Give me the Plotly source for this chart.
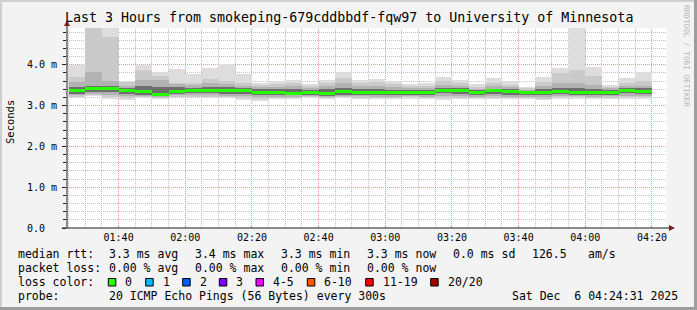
import math
import plotly.graph_objects as go
import pandas as pd

# ---- data (milliseconds) ----
slot_start = pd.date_range("2025-12-06 01:25:00", periods=35, freq="5min")
rtt_max  = [4.00,5.00,5.00,3.61,4.00,3.81,3.90,3.77,3.93,4.02,3.77,3.56,3.60,3.63,3.53,3.63,3.81,3.62,3.66,3.60,3.52,3.55,3.71,3.63,3.52,3.67,3.59,3.45,3.71,3.91,5.00,3.95,3.50,3.67,3.81]
band2_hi = [3.69,4.95,4.67,3.57,3.86,3.73,3.56,3.55,3.65,3.61,3.55,3.51,3.53,3.55,3.48,3.55,3.67,3.55,3.58,3.52,3.47,3.49,3.60,3.55,3.46,3.55,3.51,3.42,3.58,3.79,3.86,3.72,3.46,3.55,3.60]
band3_hi = [3.57,3.82,3.61,3.48,3.62,3.62,3.52,3.50,3.55,3.52,3.49,3.45,3.46,3.47,3.43,3.47,3.55,3.47,3.48,3.45,3.42,3.44,3.50,3.47,3.41,3.47,3.45,3.39,3.47,3.55,3.55,3.50,3.42,3.47,3.49]
band4_hi = [3.45,3.49,3.47,3.42,3.48,3.45,3.45,3.44,3.46,3.45,3.43,3.40,3.40,3.40,3.38,3.40,3.42,3.40,3.40,3.39,3.38,3.39,3.44,3.42,3.37,3.41,3.40,3.36,3.40,3.43,3.43,3.41,3.38,3.42,3.42]
median_rtt = [3.36,3.42,3.41,3.36,3.34,3.28,3.34,3.37,3.37,3.36,3.37,3.33,3.31,3.30,3.32,3.29,3.34,3.33,3.32,3.32,3.32,3.32,3.37,3.37,3.31,3.36,3.35,3.32,3.31,3.35,3.32,3.31,3.33,3.37,3.34]
band4_lo = [3.29,3.34,3.33,3.29,3.27,3.24,3.28,3.30,3.30,3.29,3.29,3.27,3.26,3.25,3.27,3.24,3.27,3.27,3.26,3.26,3.27,3.26,3.30,3.29,3.26,3.28,3.27,3.26,3.25,3.28,3.27,3.26,3.27,3.30,3.28]
band3_lo = [3.25,3.29,3.27,3.24,3.24,3.21,3.25,3.26,3.25,3.24,3.23,3.22,3.22,3.22,3.23,3.21,3.24,3.23,3.22,3.22,3.23,3.22,3.24,3.24,3.22,3.23,3.22,3.22,3.21,3.24,3.23,3.22,3.23,3.24,3.24]
band2_lo = [3.21,3.26,3.22,3.19,3.21,3.18,3.22,3.22,3.21,3.20,3.18,3.17,3.19,3.19,3.20,3.18,3.21,3.19,3.18,3.18,3.20,3.19,3.19,3.19,3.19,3.19,3.18,3.18,3.17,3.20,3.20,3.18,3.19,3.20,3.20]
rtt_min  = [3.19,3.24,3.16,3.14,3.19,3.16,3.20,3.20,3.18,3.18,3.14,3.12,3.16,3.16,3.18,3.15,3.19,3.17,3.15,3.15,3.17,3.16,3.14,3.15,3.16,3.15,3.15,3.15,3.14,3.17,3.17,3.16,3.16,3.17,3.17]

y_tick_vals = [0, 1, 2, 3, 4]
y_tick_text = ["0.0\u00a0\u00a0", "1.0 m", "2.0 m", "3.0 m", "4.0 m"]

loss_labels = ["0", "1", "2", "3", "4-5", "6-10", "11-19", "20/20"]
loss_colors = ["#26ff00", "#00b8ff", "#0059ff", "#7e00ff", "#ee00ff", "#ff5500", "#ff0000", "#a10000"]

title_text = "Last 3 Hours from smokeping-679cddbbdf-fqw97 to University of Minnesota"

# ---- geometry helpers (pixel -> paper) ----
W, H = 697, 310
PL, PR, PT, PB = 67, 667, 28, 228
def px(x):
    return (x - PL) / (PR - PL)
def py(y):
    return (PB - y) / (PB - PT)

MONO = "DejaVu Sans Mono"
centers = slot_start + pd.Timedelta(seconds=150)
width_ms = 300000
Y_MAX = 4.9

fig = go.Figure()
bands = [
    (rtt_min, rtt_max, "#dddddd"),
    (band2_lo, band2_hi, "#cacaca"),
    (band3_lo, band3_hi, "#b2b2b2"),
    (band4_lo, band4_hi, "#6e6e6e"),
]
for lo, hi, col in bands:
    fig.add_trace(go.Bar(x=centers, base=lo, y=[h - l for l, h in zip(lo, hi)],
                         width=width_ms, marker=dict(color=col, line=dict(width=0)),
                         hoverinfo="skip", showlegend=False))
half = 0.038
fig.add_trace(go.Bar(x=centers, base=[m - half for m in median_rtt], y=[2 * half] * len(median_rtt),
                     width=width_ms, marker=dict(color=loss_colors[0], line=dict(width=0)),
                     hoverinfo="skip", showlegend=False))

x_start = pd.Timestamp("2025-12-06 01:24:31")
x_end = pd.Timestamp("2025-12-06 04:24:31")
sec_per_px = (x_end - x_start).total_seconds() / (PR - PL)

fig.update_layout(
    width=W, height=H,
    margin=dict(l=PL, r=W - PR, t=PT, b=H - PB, pad=0),
    paper_bgcolor="#f3f3f3", plot_bgcolor="rgba(0,0,0,0)",
    barmode="overlay", bargap=0,
    showlegend=False,
    font=dict(family=MONO, size=10, color="#000000"),
)
fig.update_xaxes(
    type="date", range=[x_start, x_end], automargin=False,
    tick0="2025-12-06 01:40:00", dtick=1200000, tickformat="%H:%M",
    ticks="inside", ticklen=3, tickcolor="#eb9595", tickwidth=1,
    tickfont=dict(family=MONO, size=10, color="#000000"),
    ticklabelstandoff=2,
    showgrid=False, minor_showgrid=False,
    showline=False, zeroline=False, fixedrange=True,
)
fig.update_yaxes(
    range=[0, Y_MAX], automargin=False,
    tickmode="array", tickvals=y_tick_vals, ticktext=y_tick_text,
    ticks="outside", ticklen=4, tickcolor="#1f1f1f", tickwidth=1,
    tickfont=dict(family=MONO, size=10, color="#000000"),
    ticklabelstandoff=3,
    showgrid=False, minor_showgrid=False,
    minor=dict(dtick=0.2, tick0=0, ticks="outside", ticklen=3, tickcolor="#1f1f1f"),
    showline=False, zeroline=False, fixedrange=True,
)

shapes = []
# white canvas of the plot area (drawn as a paper shape so grid shapes can sit on it)
shapes.append(dict(type="rect", xref="paper", yref="paper", layer="below",
                   x0=0, x1=1, y0=0, y1=1, fillcolor="#ffffff", line=dict(width=0)))
GRID_MINOR = "#c0c0c0"
GRID_MAJOR = "#eb9595"
# vertical grid lines (pixel-snapped, dotted), every 5 min; major every 20 min
t = pd.Timestamp("2025-12-06 01:25:00")
while t < x_end:
    col = math.floor(PL + (t - x_start).total_seconds() / sec_per_px) + 0.5
    major = (t.minute % 20 == 0)
    shapes.append(dict(type="line", xref="paper", yref="paper", layer="below",
                       x0=px(col), x1=px(col), y0=py(PB), y1=py(PT),
                       line=dict(color=GRID_MAJOR if major else GRID_MINOR, width=1, dash="1px,1px")))
    t += pd.Timedelta(minutes=5)
# horizontal grid lines every 0.2 ms; major every 1 ms
for k in range(1, 25):
    v = 0.2 * k
    row = math.floor(PB - v * (PB - PT) / Y_MAX) + 0.5
    major = (k % 5 == 0)
    shapes.append(dict(type="line", xref="paper", yref="paper", layer="below",
                       x0=px(PL), x1=px(PR), y0=py(row), y1=py(row),
                       line=dict(color=GRID_MAJOR if major else GRID_MINOR, width=1, dash="1px,1px")))

# axes lines
shapes.append(dict(type="line", xref="paper", yref="paper", x0=px(67), x1=px(67), y0=py(228), y1=py(25),
                   line=dict(color="#1f1f1f", width=1)))
shapes.append(dict(type="line", xref="paper", yref="paper", x0=px(62), x1=px(671), y0=py(228), y1=py(228),
                   line=dict(color="#1f1f1f", width=1)))
# arrows
shapes.append(dict(type="path", xref="paper", yref="paper",
                   path=f"M {px(64)} {py(26)} L {px(70)} {py(26)} L {px(67)} {py(20)} Z",
                   fillcolor="#7f1f1f", line=dict(width=0)))
shapes.append(dict(type="path", xref="paper", yref="paper",
                   path=f"M {px(669)} {py(225)} L {px(669)} {py(231)} L {px(675)} {py(228)} Z",
                   fillcolor="#7f1f1f", line=dict(width=0)))
# frame
shapes.append(dict(type="line", xref="paper", yref="paper", x0=px(0), x1=px(697), y0=py(1), y1=py(1),
                   line=dict(color="#cfcfcf", width=2)))
shapes.append(dict(type="line", xref="paper", yref="paper", x0=px(1), x1=px(1), y0=py(0), y1=py(310),
                   line=dict(color="#cfcfcf", width=2)))
shapes.append(dict(type="line", xref="paper", yref="paper", x0=px(695.5), x1=px(695.5), y0=py(0), y1=py(310),
                   line=dict(color="#9e9e9e", width=3)))
shapes.append(dict(type="line", xref="paper", yref="paper", x0=px(0), x1=px(697), y0=py(308.5), y1=py(308.5),
                   line=dict(color="#9e9e9e", width=3)))

annotations = []
def txt(x, y, s, size=11.5, anchor="left", color="#000000", angle=0):
    annotations.append(dict(x=px(x), y=py(y), xref="paper", yref="paper", text=s, showarrow=False,
                            xanchor=anchor, yanchor="middle", textangle=angle,
                            font=dict(family=MONO, size=size, color=color)))

txt(348.5, 18, title_text, size=13.3, anchor="center")
txt(10, 122, "Seconds", size=10.5, anchor="center", angle=-90)
txt(687, 56, "RRDTOOL / TOBI OETIKER", size=7.7, anchor="center", color="#b4b4b4", angle=90)

row_y = [254.3, 268.3, 282.3, 296]
txt(16, row_y[0], "median rtt:")
for xx, s in zip([107.3, 193.3, 279.3, 365.3, 451.3, 530, 586],
                 ["3.3 ms avg", "3.4 ms max", "3.3 ms min", "3.3 ms now", "0.0 ms sd", "126.5", "am/s"]):
    txt(xx, row_y[0], s)
txt(16, row_y[1], "packet loss:")
for xx, s in zip([107.3, 193.3, 279.3, 365.3],
                 ["0.00 % avg", "0.00 % max", "0.00 % min", "0.00 % now"]):
    txt(xx, row_y[1], s)
txt(16, row_y[2], "loss color:")
sq_x = [108.3, 145.7, 182.7, 219.3, 256, 307.3, 365.7, 430.7]
for sx, lab, col in zip(sq_x, loss_labels, loss_colors):
    shapes.append(dict(type="rect", xref="paper", yref="paper", x0=px(sx), x1=px(sx + 7.5),
                       y0=py(278.5), y1=py(286), fillcolor=col, line=dict(color="#000000", width=1)))
    txt(sx + 15, row_y[2], lab)
txt(16, row_y[3], "probe:")
txt(107.3, row_y[3], "20 ICMP Echo Pings (56 Bytes) every 300s")
txt(680, row_y[3], "Sat Dec\u00a0\u00a06 04:24:31 2025", anchor="right")

fig.update_layout(shapes=shapes, annotations=annotations)
fig.write_html("out.html")
